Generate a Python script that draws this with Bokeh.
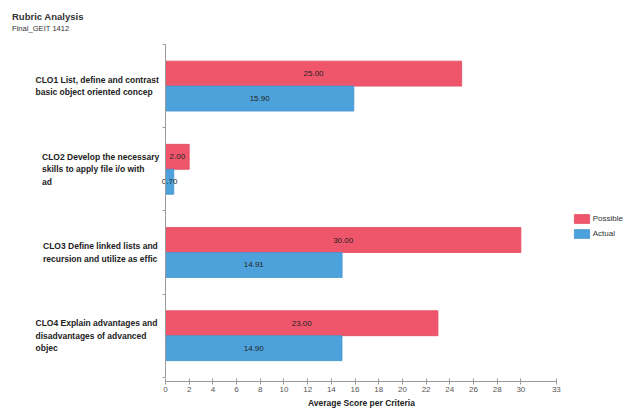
import numpy as np
from bokeh.plotting import figure
from bokeh.models import (Range1d, FixedTicker, Legend, LegendItem, ColumnDataSource,
                          Label, Title)
from bokeh.embed import file_html
from bokeh.resources import INLINE
from bokeh.core.properties import value

# ---- data ----
criteria = [
    "CLO1 List, define and contrast\nbasic object oriented concep",
    "CLO2 Develop the necessary\nskills to apply file i/o with\nad",
    "CLO3 Define linked lists and\nrecursion and utilize as effic",
    "CLO4 Explain advantages and\ndisadvantages of advanced\nobjec",
]
possible = [25.00, 2.00, 30.00, 23.00]
actual = [15.90, 0.70, 14.91, 14.90]
series_names = ["Possible", "Actual"]
x_ticks = [0, 2, 4, 6, 8, 10, 12, 14, 16, 18, 20, 22, 24, 26, 28, 30, 33]
x_max = 33
title_text = "Rubric Analysis"
subtitle_text = "Final_GEIT 1412"
x_label = "Average Score per Criteria"

# ---- style / layout ----
FONT = "Liberation Sans"
RED = "#F0566B"
BLUE = "#4EA2DB"
TXT = "#222222"
AX = "#9a9a9a"
BAR_H = 0.3
FRAME_LEFT = 5          # px
PX_PER_X = 11.845       # px per x unit
PX_PER_Y = 83.2         # px per category band
X0_PX = 165             # px of x = 0
Y0_PX = 44              # px of first band top
FRAME_BOTTOM = 381      # px

n = len(criteria)
centers = np.arange(n) + 0.5
src_p = ColumnDataSource(dict(y=centers - BAR_H / 2, v=possible,
                              mid=[v / 2 for v in possible],
                              lab=[f"{v:.2f}" for v in possible]))
src_a = ColumnDataSource(dict(y=centers + BAR_H / 2, v=actual,
                              mid=[v / 2 for v in actual],
                              lab=[f"{v:.2f}" for v in actual]))

x_start = -(X0_PX - FRAME_LEFT) / PX_PER_X
x_end = (624 - X0_PX) / PX_PER_X
y_top = -Y0_PX / PX_PER_Y
y_bottom = (FRAME_BOTTOM - Y0_PX) / PX_PER_Y

p = figure(width=624, height=409, output_backend="svg", toolbar_location=None,
           title=None,
           x_range=Range1d(x_start, x_end), y_range=Range1d(y_bottom, y_top),
           min_border_left=FRAME_LEFT, min_border_right=0, min_border_top=0,
           min_border_bottom=409 - FRAME_BOTTOM)
p.outline_line_color = None
p.grid.visible = False
p.background_fill_color = "white"
p.border_fill_color = "white"

r_p = p.hbar(y="y", right="v", left=0, height=BAR_H, source=src_p,
             fill_color=RED, line_color="#e04a5f", line_width=0.8)
r_a = p.hbar(y="y", right="v", left=0, height=BAR_H, source=src_a,
             fill_color=BLUE, line_color="#4496cf", line_width=0.8)

for src in (src_p, src_a):
    p.text(x="mid", y="y", text="lab", source=src, text_align="center",
           text_baseline="middle", text_font=value(FONT),
           text_font_size="8px", text_color=TXT)

# x axis
xa = p.xaxis[0]
xa.ticker = FixedTicker(ticks=x_ticks)
xa.bounds = (0, x_max)
xa.minor_tick_line_color = None
xa.major_tick_in = 3
xa.major_tick_out = 3
xa.axis_line_color = AX
xa.major_tick_line_color = AX
xa.major_label_text_font = FONT
xa.major_label_text_font_size = "8px"
xa.major_label_text_color = "#555555"
xa.major_label_standoff = 2

# x axis title, centred under the bounded axis
p.add_layout(Title(text=x_label, align="left", offset=307.5 - FRAME_LEFT, standoff=2,
                   text_font=FONT, text_font_size="8.5px", text_font_style="bold",
                   text_color=TXT), "below")

# y axis: boundary ticks at x = 0
ya = p.yaxis[0]
ya.fixed_location = 0
ya.ticker = FixedTicker(ticks=list(range(n + 1)))
ya.bounds = (0, n)
ya.major_label_overrides = {i: "" for i in range(n + 1)}
ya.major_label_standoff = 0
ya.minor_tick_line_color = None
ya.major_tick_in = 0
ya.major_tick_out = 3
ya.axis_line_color = AX
ya.major_tick_line_color = AX

# category labels (left-aligned text blocks)
label_left_px = [35, 41.5, 42.5, 35]
for i, txt in enumerate(criteria):
    p.add_layout(Label(x=label_left_px[i] - FRAME_LEFT, y=centers[i],
                       x_units="screen", y_units="data",
                       text=txt, text_align="left", text_baseline="middle",
                       text_font=FONT, text_font_size="8.5px", text_font_style="bold",
                       text_line_height=1.27, text_color=TXT))

# titles
p.add_layout(Label(x=11.5 - FRAME_LEFT, y=FRAME_BOTTOM - 15.7, x_units="screen",
                   y_units="screen", text=title_text, text_align="left",
                   text_baseline="middle", text_font=FONT, text_font_size="9.5px",
                   text_font_style="bold", text_color="#333333"))
p.add_layout(Label(x=11.5 - FRAME_LEFT, y=FRAME_BOTTOM - 28.3, x_units="screen",
                   y_units="screen", text=subtitle_text, text_align="left",
                   text_baseline="middle", text_font=FONT, text_font_size="7.6px",
                   text_color="#333333"))

legend = Legend(items=[LegendItem(label=series_names[0], renderers=[r_p]),
                       LegendItem(label=series_names[1], renderers=[r_a])],
                location=(571.7 - FRAME_LEFT, 142), orientation="vertical",
                glyph_width=19, glyph_height=11, label_height=11, spacing=4,
                padding=0, margin=0, label_standoff=2,
                border_line_color=None, background_fill_alpha=0,
                label_text_font=FONT, label_text_font_size="8px", label_text_color="#333333")
p.add_layout(legend)

open("out.html", "w").write(file_html(p, INLINE))
